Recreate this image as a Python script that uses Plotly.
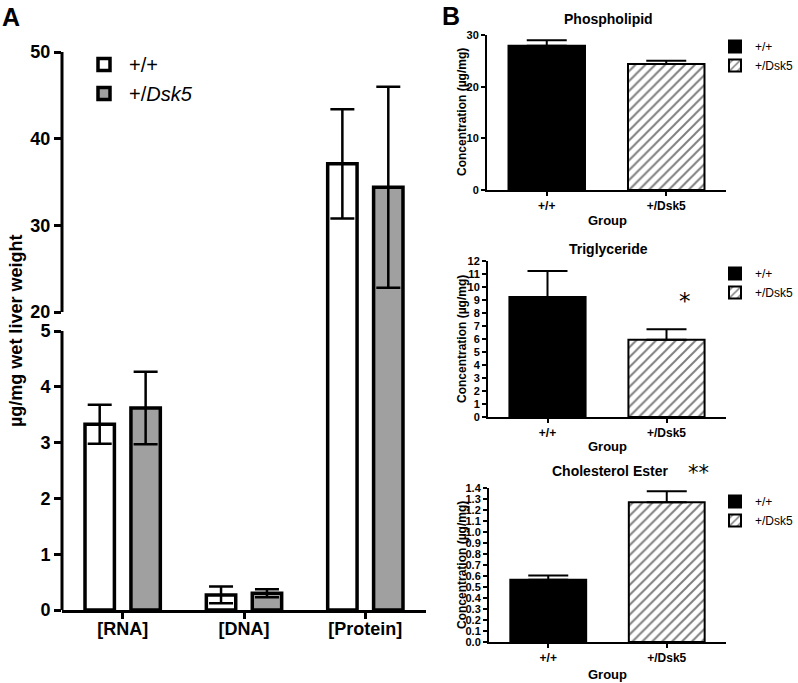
import plotly.graph_objects as go

# ---------------- Panel A data ----------------
categories = ["[RNA]", "[DNA]", "[Protein]"]
wt_mean = [3.33, 0.27, 37.1]
wt_err = [0.35, 0.15, 6.3]
dsk_mean = [3.62, 0.30, 34.4]
dsk_err = [0.65, 0.07, 11.6]
low_ticks = [0, 1, 2, 3, 4, 5]
high_ticks = [20, 30, 40, 50]

# ---------------- Panel B data ----------------
groups = ["+/+", "+/Dsk5"]
phos_mean = [27.9, 24.4]
phos_err = [1.1, 0.6]
tg_mean = [9.23, 5.95]
tg_err = [2.0, 0.8]
ce_mean = [0.565, 1.27]
ce_err = [0.04, 0.10]

FONT = "Liberation Sans"
W, H = 798, 683

# broken axis scale for panel A: lower segment 0-5 linear, upper 20-50 compressed
LOW_MAX, HIGH_MIN, HIGH_MAX = 5, 20, 50
HIGH_MIN_POS, HIGH_MAX_POS = 5.34, 10.0


def disp(v):
    if v <= LOW_MAX:
        return v
    return HIGH_MIN_POS + (v - HIGH_MIN) * (HIGH_MAX_POS - HIGH_MIN_POS) / (HIGH_MAX - HIGH_MIN)


def px_x(p):
    return p / W


def px_y(p):
    return 1 - p / H


fig = go.Figure()

# ---------- Panel A bars ----------
for legname, means, errs, fill in [
    ("+/+", wt_mean, wt_err, "white"),
    ("+/<i>Dsk5</i>", dsk_mean, dsk_err, "#a0a0a0"),
]:
    ys = [disp(m) for m in means]
    plus = [disp(m + e) - disp(m) for m, e in zip(means, errs)]
    minus = [disp(m) - disp(m - e) for m, e in zip(means, errs)]
    fig.add_trace(go.Bar(
        x=categories, y=ys, name=legname, legend="legend",
        marker=dict(color=fill, line=dict(color="black", width=3.5)),
        error_y=dict(type="data", symmetric=False, array=plus, arrayminus=minus,
                     color="black", thickness=2.5, width=12),
        xaxis="x", yaxis="y",
    ))

# ---------- Panel B bars ----------
panelB = [
    ("2", phos_mean, phos_err, "legend2"),
    ("3", tg_mean, tg_err, "legend3"),
    ("4", ce_mean, ce_err, "legend4"),
]
for ax, means, errs, leg in panelB:
    fig.add_trace(go.Bar(
        x=[groups[0]], y=[means[0]], name=groups[0], legend=leg,
        offsetgroup="g" + ax, width=0.64,
        marker=dict(color="black", line=dict(color="black", width=2)),
        error_y=dict(type="data", symmetric=False, array=[errs[0]], arrayminus=[0],
                     color="black", thickness=2, width=20),
        xaxis="x" + ax, yaxis="y" + ax,
    ))
    fig.add_trace(go.Bar(
        x=[groups[1]], y=[means[1]], name=groups[1], legend=leg,
        offsetgroup="g" + ax, width=0.64,
        marker=dict(color="white", line=dict(color="black", width=2),
                    pattern=dict(shape="/", fgcolor="black", bgcolor="white",
                                 size=7, solidity=0.28)),
        error_y=dict(type="data", symmetric=False, array=[errs[1]], arrayminus=[0],
                     color="black", thickness=2, width=20),
        xaxis="x" + ax, yaxis="y" + ax,
    ))

boldA = dict(family=FONT, size=18, color="black", weight="bold")
boldB_y = dict(family=FONT, size=11, color="black", weight="bold")
boldB_x = dict(family=FONT, size=12, color="black", weight="bold")

layout = dict(
    width=W, height=H,
    margin=dict(l=0, r=0, t=0, b=0, autoexpand=False),
    paper_bgcolor="white", plot_bgcolor="white",
    barmode="group", bargap=0.243, bargroupgap=0.36,
    font=dict(family=FONT, color="black"),
    showlegend=True,
    # Panel A
    xaxis=dict(domain=[px_x(62), px_x(426)], anchor="y", showline=True, linewidth=3,
               linecolor="black", ticks="outside", ticklen=6, tickwidth=3,
               tickcolor="black", tickfont=boldA, showgrid=False, zeroline=False,
               range=[-0.5, 2.5], automargin=False, ticklabelstandoff=-6),
    yaxis=dict(domain=[px_y(610), px_y(52)], anchor="x", range=[0, HIGH_MAX_POS],
               showline=False, ticks="outside", ticklen=7, tickwidth=3,
               tickcolor="black", tickfont=boldA, showgrid=False, zeroline=False,
               automargin=False,
               tickvals=[disp(v) for v in low_ticks + high_ticks],
               ticktext=[str(v) for v in low_ticks + high_ticks]),
    legend=dict(x=px_x(79), y=px_y(45), xanchor="left", yanchor="top",
                font=dict(family=FONT, size=20, color="black"),
                bgcolor="rgba(0,0,0,0)", itemwidth=40, tracegroupgap=0),
)

B_dom = {
    "2": dict(x=[px_x(487), px_x(726)], y=[px_y(190), px_y(35)], rng=[0, 30], dtick=10, fmt=None),
    "3": dict(x=[px_x(488), px_x(726)], y=[px_y(417), px_y(261)], rng=[0, 12], dtick=1, fmt=None),
    "4": dict(x=[px_x(489), px_x(726)], y=[px_y(642), px_y(488)], rng=[0, 1.4], dtick=0.1, fmt=".1f"),
}
for ax, d in B_dom.items():
    layout["xaxis" + ax] = dict(domain=d["x"], anchor="y" + ax, showline=True, linewidth=2,
                                linecolor="black", ticks="outside", ticklen=4, tickwidth=2,
                                tickcolor="black", tickfont=boldB_x, showgrid=False,
                                zeroline=False, range=[-0.5, 1.5], automargin=False,
                                categoryorder="array", categoryarray=groups)
    ya = dict(domain=d["y"], anchor="x" + ax, showline=True, linewidth=2, linecolor="black",
              ticks="outside", ticklen=4, tickwidth=2, tickcolor="black", tickfont=boldB_y,
              showgrid=False, zeroline=False, range=d["rng"], dtick=d["dtick"], tick0=0,
              automargin=False)
    if d["fmt"]:
        ya["tickformat"] = d["fmt"]
    layout["yaxis" + ax] = ya

legB_font = dict(family=FONT, size=12, color="black")
for name, ytop in [("legend2", 32), ("legend3", 259), ("legend4", 487)]:
    layout[name] = dict(x=px_x(715), y=px_y(ytop), xanchor="left", yanchor="top", font=legB_font,
                        bgcolor="rgba(0,0,0,0)", itemwidth=30, tracegroupgap=0)

fig.update_layout(**layout)

# broken y-axis line for panel A
fig.add_shape(type="line", xref="x domain", yref="y", x0=0, x1=0, y0=0, y1=disp(LOW_MAX),
              line=dict(color="black", width=3))
fig.add_shape(type="line", xref="x domain", yref="y", x0=0, x1=0, y0=disp(HIGH_MIN),
              y1=disp(HIGH_MAX), line=dict(color="black", width=3))


def ann(text, x, y, size, bold=True, angle=0, xanchor="center", family=FONT):
    fig.add_annotation(text=text, x=px_x(x), y=px_y(y), xref="paper", yref="paper",
                       showarrow=False, textangle=angle, xanchor=xanchor, yanchor="middle",
                       font=dict(family=family, size=size, color="black",
                                 weight="bold" if bold else "normal"))


ann("A", 0, 17, 25, xanchor="left")
ann("B", 440, 16, 25, xanchor="left")
ann("µg/mg wet liver weight", 16, 331, 18, angle=-90)

ann("Phospholipid", 608, 19, 14)
ann("Triglyceride", 608, 249, 14)
ann("Cholesterol Ester", 610, 471, 14)
for yc in [112, 339, 565]:
    ann("Concentration (µg/mg)", 462, yc, 12, angle=-90)
for yg in [220, 446, 674]:
    ann("Group", 607, yg, 13)
ann("*", 685, 301, 23, bold=False, family="DejaVu Sans")
ann("**", 698, 473, 21, bold=False, family="DejaVu Sans")

fig.write_html("out.html", config={"displayModeBar": False},
               post_script="document.body.style.margin='0px';")
